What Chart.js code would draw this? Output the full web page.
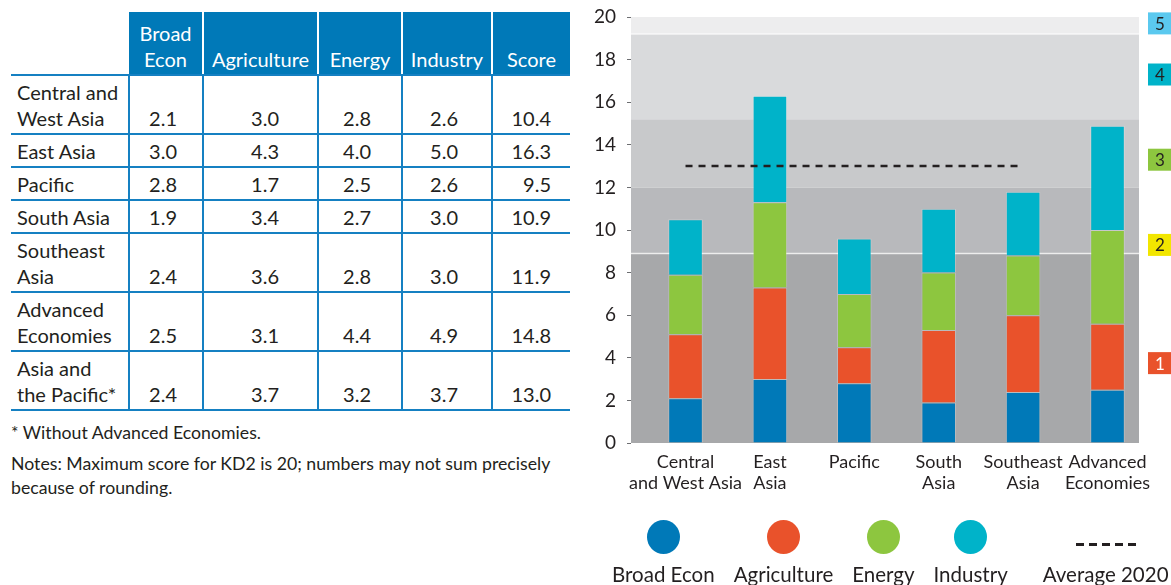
<!DOCTYPE html>
<html>
<head>
<meta charset="utf-8">
<script src="https://cdn.jsdelivr.net/npm/chart.js@4.4.0/dist/chart.umd.min.js"></script>
<style>
    html, body { margin: 0; padding: 0; background: #fff; }
    body { width: 1171px; height: 585px; position: relative; overflow: hidden; font-family: Lato, sans-serif; color: #231f20; }

    /* table on the left */
    #scoreTable { position: absolute; left: 11px; top: 12px; border-collapse: collapse; table-layout: fixed; font-size: 20px; line-height: 26px; }
    #scoreTable th { background: #0079b8; color: #fff; font-weight: normal; text-align: center; vertical-align: bottom; padding: 8px 0 2px; border-left: 2px solid #fff; border-bottom: 2px solid #1580c2; }
    #scoreTable th.blank { background: #fff; border-left: none; }
    #scoreTable th.first { border-left: none; }
    #scoreTable td { border-bottom: 2px solid #1580c2; padding: 2.5px 0 2.5px; vertical-align: bottom; }
    #scoreTable td.lbl { text-align: left; padding-left: 6px; vertical-align: top; }
    #scoreTable td.num { border-left: 2px solid #1580c2; text-align: right; }
    #scoreTable td.c1 { padding-right: 25px; }
    #scoreTable td.c2 { padding-right: 38px; }
    #scoreTable td.c3 { padding-right: 30px; }
    #scoreTable td.c4 { padding-right: 33px; }
    #scoreTable td.c5 { padding-right: 19px; }

    .note { position: absolute; left: 11px; font-size: 17.7px; line-height: 24px; width: 570px; }

    /* chart on the right */
    #chartBox { position: absolute; left: 580px; top: 0; width: 591px; height: 585px; }

    #legend { position: absolute; left: 612px; top: 520px; display: flex; gap: 19px; font-size: 20.5px; line-height: 24px; }
    #legend .item { display: flex; flex-direction: column; align-items: center; }
    #legend .dot { width: 33px; height: 34px; border-radius: 50%; }
    #legend .dash { width: 60px; height: 2.5px; margin: 23px 0 8.5px; background: repeating-linear-gradient(90deg, #231f20 0 8px, transparent 8px 13px); }
    #legend .txt { margin-top: 8px; white-space: nowrap; }
    #legend .avg { margin-left: 16px; }
</style>
</head>
<body>

<table id="scoreTable">
    <colgroup>
        <col style="width:118px"><col style="width:74px"><col style="width:115px">
        <col style="width:84px"><col style="width:90px"><col style="width:78px">
    </colgroup>
</table>

<div class="note" style="top:421px">* Without Advanced Economies.</div>
<div class="note" style="top:452px">Notes: Maximum score for KD2 is 20; numbers may not sum precisely<br>because of rounding.</div>

<div id="chartBox"><canvas id="kd2Chart"></canvas></div>
<div id="legend"></div>

<script>
// table columns / rows
const columnHeads = [['Broad', 'Econ'], ['Agriculture'], ['Energy'], ['Industry'], ['Score']];
const tableRegions = [
    ['Central and', 'West Asia'],
    ['East Asia'],
    ['Pacific'],
    ['South Asia'],
    ['Southeast', 'Asia'],
    ['Advanced', 'Economies'],
    ['Asia and', 'the Pacific*']
];

// scores per region (same order as tableRegions)
const broadEcon   = [2.1, 3.0, 2.8, 1.9, 2.4, 2.5, 2.4];
const agriculture = [3.0, 4.3, 1.7, 3.4, 3.6, 3.1, 3.7];
const energy      = [2.8, 4.0, 2.5, 2.7, 2.8, 4.4, 3.2];
const industry    = [2.6, 5.0, 2.6, 3.0, 3.0, 4.9, 3.7];
const score       = [10.4, 16.3, 9.5, 10.9, 11.9, 14.8, 13.0];

// chart: first six regions, average line over the Asian regions
const chartCategories = [['Central', 'and West Asia'], ['East', 'Asia'], ['Pacific'], ['South', 'Asia'], ['Southeast', 'Asia'], ['Advanced', 'Economies']];
const averageScore = score[6];
const averageSpan = [0, 1, 2, 3, 4];

// level bands behind the bars
const levelBreaks = [0, 8.9, 12, 15.2, 19.2, 20];
const levelNames = ['1', '2', '3', '4', '5'];

// y axis ticks
const yTicks = [0, 2, 4, 6, 8, 10, 12, 14, 16, 18, 20];

// ---- build the table ----
const tableEl = document.getElementById('scoreTable');
let rowsHtml = '<tr><th class="blank"></th>' +
    columnHeads.map((h, i) => '<th' + (i === 0 ? ' class="first"' : '') + '>' + h.join('<br>') + '</th>').join('') + '</tr>';
tableRegions.forEach(function(lines, i) {
    rowsHtml += '<tr><td class="lbl">' + lines.join('<br>') + '</td>';
    [broadEcon, agriculture, energy, industry, score].forEach(function(arr, c) {
        rowsHtml += '<td class="num c' + (c + 1) + '">' + arr[i].toFixed(1) + '</td>';
    });
    rowsHtml += '</tr>';
});
tableEl.insertAdjacentHTML('beforeend', rowsHtml);

// ---- chart ----
const seriesColors = ['#0079b8', '#e9522b', '#8dc63f', '#00b3c9'];
const bandColors = ['#a7a8aa', '#b8b9bc', '#c8c9cb', '#d9dadc', '#ededee'];
const markColors = ['#e9522b', '#f2e600', '#8dc63f', '#00b3c9', '#5bc9ef'];
const markText = ['#ffffff', '#231f20', '#231f20', '#231f20', '#231f20'];
const markAt = [3.75, 9.3, 13.3, 17.3, 19.7];

function points(arr) {
    return chartCategories.map((c, i) => ({ x: i, y: arr[i] }));
}

const levelBands = {
    id: 'levelBands',
    beforeDatasetsDraw(chart) {
        const { ctx, chartArea, scales } = chart;
        const y = scales.y;
        ctx.save();
        for (let i = 0; i < bandColors.length; i++) {
            const top = y.getPixelForValue(levelBreaks[i + 1]);
            const bottom = y.getPixelForValue(levelBreaks[i]);
            ctx.fillStyle = bandColors[i];
            ctx.fillRect(chartArea.left, top, chartArea.right - chartArea.left, bottom - top);
        }
        // light seams at the outer level limits
        ctx.strokeStyle = 'rgba(255,255,255,0.7)';
        ctx.lineWidth = 1.5;
        [levelBreaks[1], levelBreaks[4]].forEach(function(v) {
            const py = y.getPixelForValue(v);
            ctx.beginPath();
            ctx.moveTo(chartArea.left, py);
            ctx.lineTo(chartArea.right, py);
            ctx.stroke();
        });
        ctx.restore();
    },
    afterDraw(chart) {
        const { ctx, chartArea, scales } = chart;
        ctx.save();
        ctx.font = '17px Lato';
        ctx.textAlign = 'center';
        ctx.textBaseline = 'middle';
        levelNames.forEach(function(name, i) {
            const cy = scales.y.getPixelForValue(markAt[i]);
            const x = chartArea.right + 9;
            ctx.fillStyle = markColors[i];
            ctx.fillRect(x, cy - 11, 26, 22);
            ctx.fillStyle = markText[i];
            ctx.fillText(name, x + 12, cy + 1);
        });
        ctx.restore();
    }
};

const chartCtx = document.getElementById('kd2Chart');

const kd2Chart = new Chart(chartCtx, {
    type: 'bar',
    data: {
        datasets: [
            {
                type: 'line',
                label: 'Average 2020',
                data: averageSpan.map(i => ({ x: i, y: averageScore })),
                borderColor: '#231f20',
                borderDash: [7, 6],
                borderWidth: 2.5,
                pointRadius: 0,
                fill: false,
                stack: 'average',
                order: 0
            },
            { label: 'Broad Econ', data: points(broadEcon), backgroundColor: seriesColors[0], order: 1 },
            { label: 'Agriculture', data: points(agriculture), backgroundColor: seriesColors[1], order: 1 },
            { label: 'Energy', data: points(energy), backgroundColor: seriesColors[2], order: 1 },
            { label: 'Industry', data: points(industry), backgroundColor: seriesColors[3], order: 1 }
        ]
    },
    options: {
        responsive: true,
        maintainAspectRatio: false,
        animation: false,
        categoryPercentage: 1,
        barPercentage: 0.41,
        borderWidth: 1,
        borderColor: 'rgba(255,255,255,0.22)',
        layout: {
            padding: { top: 17, right: 32, left: 0, bottom: 0 }
        },
        plugins: {
            legend: { display: false },
            tooltip: { enabled: false }
        },
        scales: {
            x: {
                type: 'linear',
                offset: false,
                stacked: true,
                min: -0.646,
                max: 5.373,
                grid: { display: false, drawTicks: false },
                border: { display: false },
                ticks: {
                    stepSize: 1,
                    includeBounds: false,
                    autoSkip: false,
                    maxRotation: 0,
                    padding: 8,
                    color: '#231f20',
                    font: { family: 'Lato', size: 18, lineHeight: 1.2 },
                    callback: function(value) {
                        return chartCategories[value] || '';
                    }
                },
                afterFit: function(scale) { scale.height = 142; }
            },
            y: {
                stacked: true,
                min: 0,
                max: 20,
                afterBuildTicks: function(scale) {
                    scale.ticks = yTicks.map(v => ({ value: v }));
                },
                grid: { drawOnChartArea: false, drawTicks: true, tickLength: 4, color: '#6d6e71', tickColor: '#6d6e71' },
                border: { display: false },
                ticks: {
                    padding: 11,
                    color: '#231f20',
                    font: { family: 'Lato', size: 19 }
                },
                afterFit: function(scale) {
                    scale.width = 51;
                    scale.paddingTop = 12;
                    scale.paddingBottom = 12;
                }
            }
        }
    },
    plugins: [levelBands]
});

// ---- legend under the chart ----
const legendEl = document.getElementById('legend');
kd2Chart.data.datasets.slice(1).concat(kd2Chart.data.datasets[0]).forEach(function(ds) {
    const item = document.createElement('div');
    item.className = 'item' + (ds.type === 'line' ? ' avg' : '');
    const mark = document.createElement('div');
    if (ds.type === 'line') {
        mark.className = 'dash';
    } else {
        mark.className = 'dot';
        mark.style.background = ds.backgroundColor;
    }
    const txt = document.createElement('div');
    txt.className = 'txt';
    txt.textContent = ds.label;
    item.appendChild(mark);
    item.appendChild(txt);
    legendEl.appendChild(item);
});
</script>
</body>
</html>
